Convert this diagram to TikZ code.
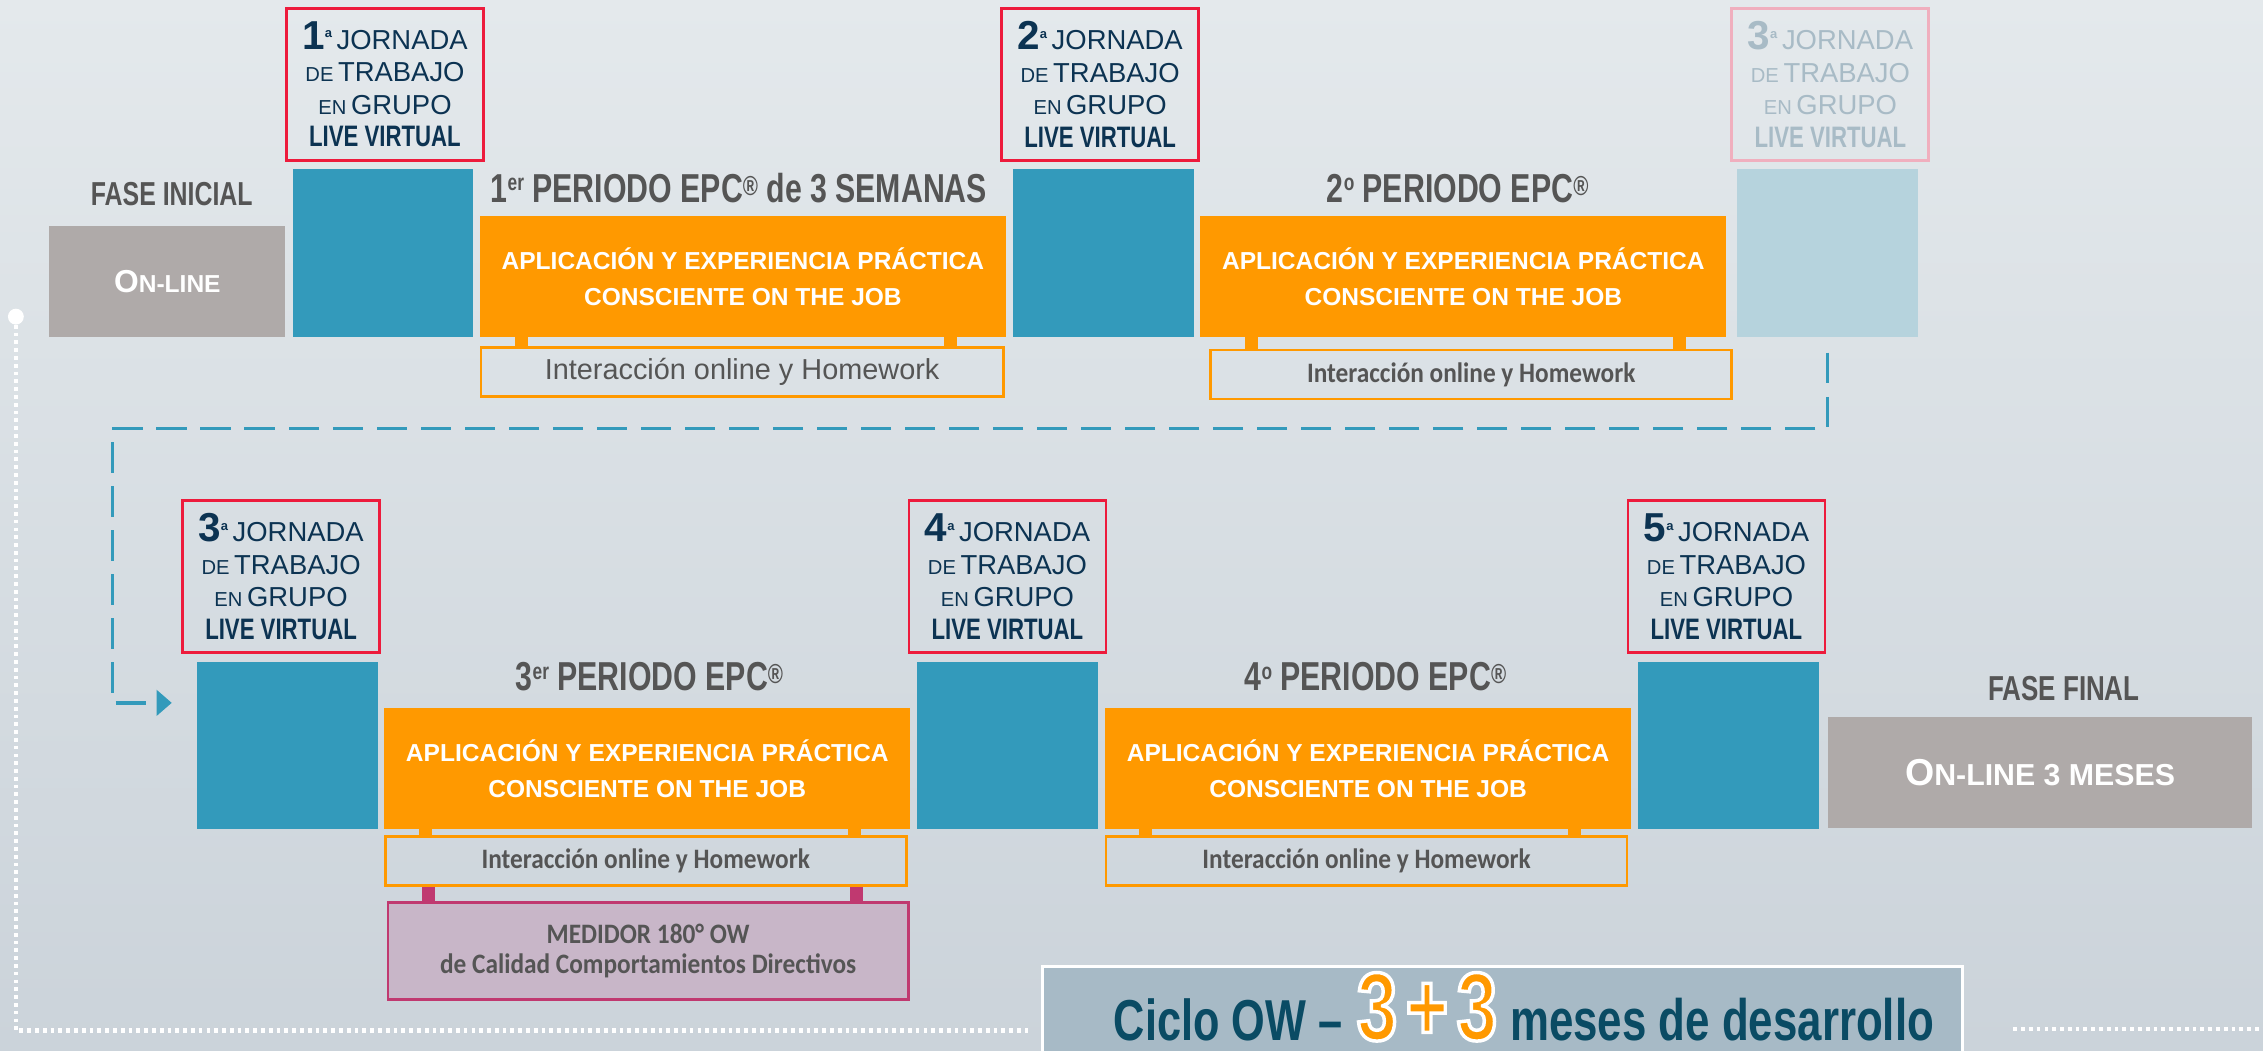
\documentclass[tikz,border=0pt]{standalone}
\usepackage{fontspec}
\setmainfont{Liberation Sans}
\newfontfamily\condfont[FakeStretch=0.75]{Liberation Sans}
\newfontfamily\calfont[FakeStretch=0.9]{Carlito}
\usetikzlibrary{arrows.meta}

\definecolor{bgtop}{RGB}{228,233,236}
\definecolor{bgbottom}{RGB}{203,211,218}
\definecolor{navy}{RGB}{12,51,82}
\definecolor{jred}{RGB}{237,27,60}
\definecolor{epcblue}{RGB}{51,154,187}
\definecolor{epcorange}{RGB}{255,153,0}
\definecolor{phasegray}{RGB}{175,170,169}
\definecolor{titlegray}{RGB}{85,85,85}
\definecolor{fadeblue}{RGB}{182,211,221}
\definecolor{fadetext}{RGB}{168,187,198}
\definecolor{fadered}{RGB}{240,175,190}
\definecolor{medfill}{RGB}{200,182,200}
\definecolor{medline}{RGB}{192,57,112}
\definecolor{ciclofill}{RGB}{167,186,198}
\definecolor{cicloteal}{RGB}{10,75,100}

\newcommand{\jornadatext}[1]{%
  {\bfseries\fontsize{28}{28}\selectfont #1}\raisebox{8pt}{\bfseries\fontsize{9}{9}\selectfont a}\,JORNADA\\
  {\fontsize{14}{14}\selectfont DE}\,TRABAJO\\
  {\fontsize{14}{14}\selectfont EN}\,GRUPO\\
  {\condfont\bfseries\fontsize{20.5}{20.5}\selectfont LIVE VIRTUAL}}
\newcommand{\epcmark}{\raisebox{5pt}{\fontsize{19}{19}\selectfont ®}}
\newcommand{\supsmall}[1]{\raisebox{8pt}{\fontsize{16}{16}\selectfont #1}}
\newcommand{\aplicacion}{APLICACIÓN Y EXPERIENCIA PRÁCTICA\\CONSCIENTE ON THE JOB}
% white rim round the big digits (fill + stroke)
\newcommand{\whiterim}[1]{\special{pdf:literal direct 2 Tr 2.4 w 1 1 1 RG}#1\special{pdf:literal direct 0 Tr}}

\tikzset{
  jornada/.style={draw=jred, line width=2pt, anchor=north west, minimum width=136.5pt,
    minimum height=105pt, inner sep=0pt, align=center, text=navy,
    font=\fontsize{19}{22.5}\selectfont},
  fadejornada/.style={jornada, draw=fadered, text=fadetext},
  bluebox/.style={fill=epcblue, anchor=north west, minimum width=125pt, minimum height=116pt, inner sep=0pt},
  practica/.style={fill=epcorange, anchor=north west, minimum width=364.5pt, minimum height=83.5pt,
    inner sep=0pt, align=center, text=white, font=\bfseries\fontsize{17}{25.4}\selectfont},
  interaccion/.style={draw=epcorange, line width=1.8pt, anchor=north west, minimum width=361pt,
    minimum height=34pt, inner sep=0pt, text=titlegray, font=\calfont\bfseries\fontsize{19.5}{20}\selectfont},
  phase/.style={fill=phasegray, anchor=north west, minimum height=76.7pt, inner sep=0pt,
    text=white, font=\bfseries},
  phasetitle/.style={anchor=base, inner sep=0pt, text=titlegray, font=\condfont\bfseries\fontsize{23}{23}\selectfont},
  periodo/.style={anchor=base, inner sep=0pt, text=titlegray, font=\condfont\bfseries\fontsize{28}{28}\selectfont},
  orangebar/.style={draw=epcorange, line width=9pt},
  pinkbar/.style={draw=medline, line width=9.5pt},
  flowdash/.style={draw=epcblue, line width=2.3pt, dash pattern=on 21pt off 9.5pt},
  whitedots/.style={draw=white, line width=2.8pt, dash pattern=on 2.6pt off 2.8pt},
}

\begin{document}
\begin{tikzpicture}[x=1pt,y=-1pt]
    % Background
    \useasboundingbox (0,0) rectangle (1568,728);
    \shade[top color=bgtop, bottom color=bgbottom] (0,0) rectangle (1568,728);
    \clip (0,0) rectangle (1568,728);

    % Top row
    \node[phasetitle] (faseini) at (119,142.5) {FASE INICIAL};
    \node[phase, minimum width=163.5pt] (online) at (34,156.6)
        {{\fontsize{22}{22}\selectfont O}{\fontsize{17}{17}\selectfont N-LINE}};

    \node[jornada] (j1) at (197.5,5) {\jornadatext{1}};
    \node[bluebox] (b1) at (202.8,117) {};
    \node[periodo] (t1) at (512,140.2) {1\supsmall{er} PERIODO EPC\epcmark\ de 3 SEMANAS};
    \node[practica] (o1) at (332.3,149.7) {\aplicacion};
    \node[interaccion, minimum width=362pt, font=\fontsize{20}{20}\selectfont] (i1) at (332.3,239.7)
        {Interacción online y Homework};
    \draw[orangebar] ([xshift=29pt]i1.north west) -- ([xshift=29pt]i1.north west |- o1.south);
    \draw[orangebar] ([xshift=326pt]i1.north west) -- ([xshift=326pt]i1.north west |- o1.south);

    \node[jornada] (j2) at (693,5) {\jornadatext{2}};
    \node[bluebox] (b2) at (702,117) {};
    \node[periodo] (t2) at (1010,140.2) {2\supsmall{o} PERIODO EPC\epcmark};
    \node[practica] (o2) at (831.5,149.7) {\aplicacion};
    \node[interaccion] (i2) at (838,241.6) {Interacción online y Homework};
    \draw[orangebar] ([xshift=29pt]i2.north west) -- ([xshift=29pt]i2.north west |- o2.south);
    \draw[orangebar] ([xshift=325.5pt]i2.north west) -- ([xshift=325.5pt]i2.north west |- o2.south);

    \node[fadejornada] (jf) at (1199,5) {\jornadatext{3}};
    \node[bluebox, fill=fadeblue] (bf) at (1203.6,117) {};

    % Link to the second row
    \coordinate (loopleft) at (77.8,297);
    \coordinate (arrowtip) at (119,487);
    \draw[flowdash, -{Triangle[length=10.5pt,width=17.6pt]}]
        ([yshift=-11pt]bf.south) |- (loopleft) |- (arrowtip);

    % Bottom row
    \node[jornada] (j3) at (125.5,346) {\jornadatext{3}};
    \node[bluebox] (b3) at (136.5,458.3) {};
    \node[periodo] (t3) at (450,478.7) {3\supsmall{er} PERIODO EPC\epcmark};
    \node[practica] (o3) at (266,490.6) {\aplicacion};
    \node[interaccion] (i3) at (266,578.6) {Interacción online y Homework};
    \draw[orangebar] ([xshift=29pt]i3.north west) -- ([xshift=29pt]i3.north west |- o3.south);
    \draw[orangebar] ([xshift=326pt]i3.north west) -- ([xshift=326pt]i3.north west |- o3.south);
    \node[draw=medline, line width=2pt, fill=medfill, anchor=north west, minimum width=360.6pt,
        minimum height=67.3pt, inner sep=0pt, align=center, text=titlegray,
        font=\calfont\bfseries\fontsize{19.5}{20.4}\selectfont] (med) at (267.8,624.3)
        {MEDIDOR 180° OW\\de Calidad Comportamientos Directivos};
    \draw[pinkbar] ([xshift=29pt]med.north west) -- ([xshift=29pt]med.north west |- i3.south);
    \draw[pinkbar] ([xshift=325.7pt]med.north west) -- ([xshift=325.7pt]med.north west |- i3.south);

    \node[jornada] (j4) at (628.8,346) {\jornadatext{4}};
    \node[bluebox] (b4) at (635.5,458.3) {};
    \node[periodo] (t4) at (953,478.7) {4\supsmall{o} PERIODO EPC\epcmark};
    \node[practica] (o4) at (765.5,490.6) {\aplicacion};
    \node[interaccion] (i4) at (765.5,578.6) {Interacción online y Homework};
    \draw[orangebar] ([xshift=28.5pt]i4.north west) -- ([xshift=28.5pt]i4.north west |- o4.south);
    \draw[orangebar] ([xshift=325.5pt]i4.north west) -- ([xshift=325.5pt]i4.north west |- o4.south);

    \node[jornada] (j5) at (1127,346) {\jornadatext{5}};
    \node[bluebox] (b5) at (1135,458.3) {};
    \node[phasetitle, font=\condfont\bfseries\fontsize{24}{24}\selectfont] (fasefin) at (1430,485.7) {FASE FINAL};
    \node[phase, minimum width=293.3pt] (onlinefin) at (1266.7,496.8)
        {{\fontsize{26}{26}\selectfont O}{\fontsize{21}{21}\selectfont N-LINE 3 MESES}};

    % Cycle banner and dotted frame
    \node[draw=white, line width=2pt, fill=ciclofill, anchor=north west, minimum width=637.5pt,
        minimum height=90pt] (ciclo) at (721.5,668.7) {};
    \node[anchor=base west, inner sep=0pt, font=\condfont\bfseries] (ciclotext) at (771.6,720.6)
        {{\color{cicloteal}\fontsize{40}{40}\selectfont Ciclo OW –}\hspace{10pt}%
         {\color{epcorange}\fontsize{67}{67}\selectfont\whiterim{3\hspace{6pt}+\hspace{6pt}3}}\hspace{9pt}%
         {\color{cicloteal}\fontsize{40.5}{40.5}\selectfont meses de desarrollo}};

    \node[circle, fill=white, minimum size=11pt, inner sep=0pt] (startdot) at (11,219.4) {};
    \coordinate (dotend) at (712,714);
    \coordinate (dotrightA) at (1395,713);
    \coordinate (dotrightB) at (1568,713);
    \draw[whitedots] (startdot.south) |- (dotend);
    \draw[whitedots] (dotrightA) -- (dotrightB);
\end{tikzpicture}
\end{document}
